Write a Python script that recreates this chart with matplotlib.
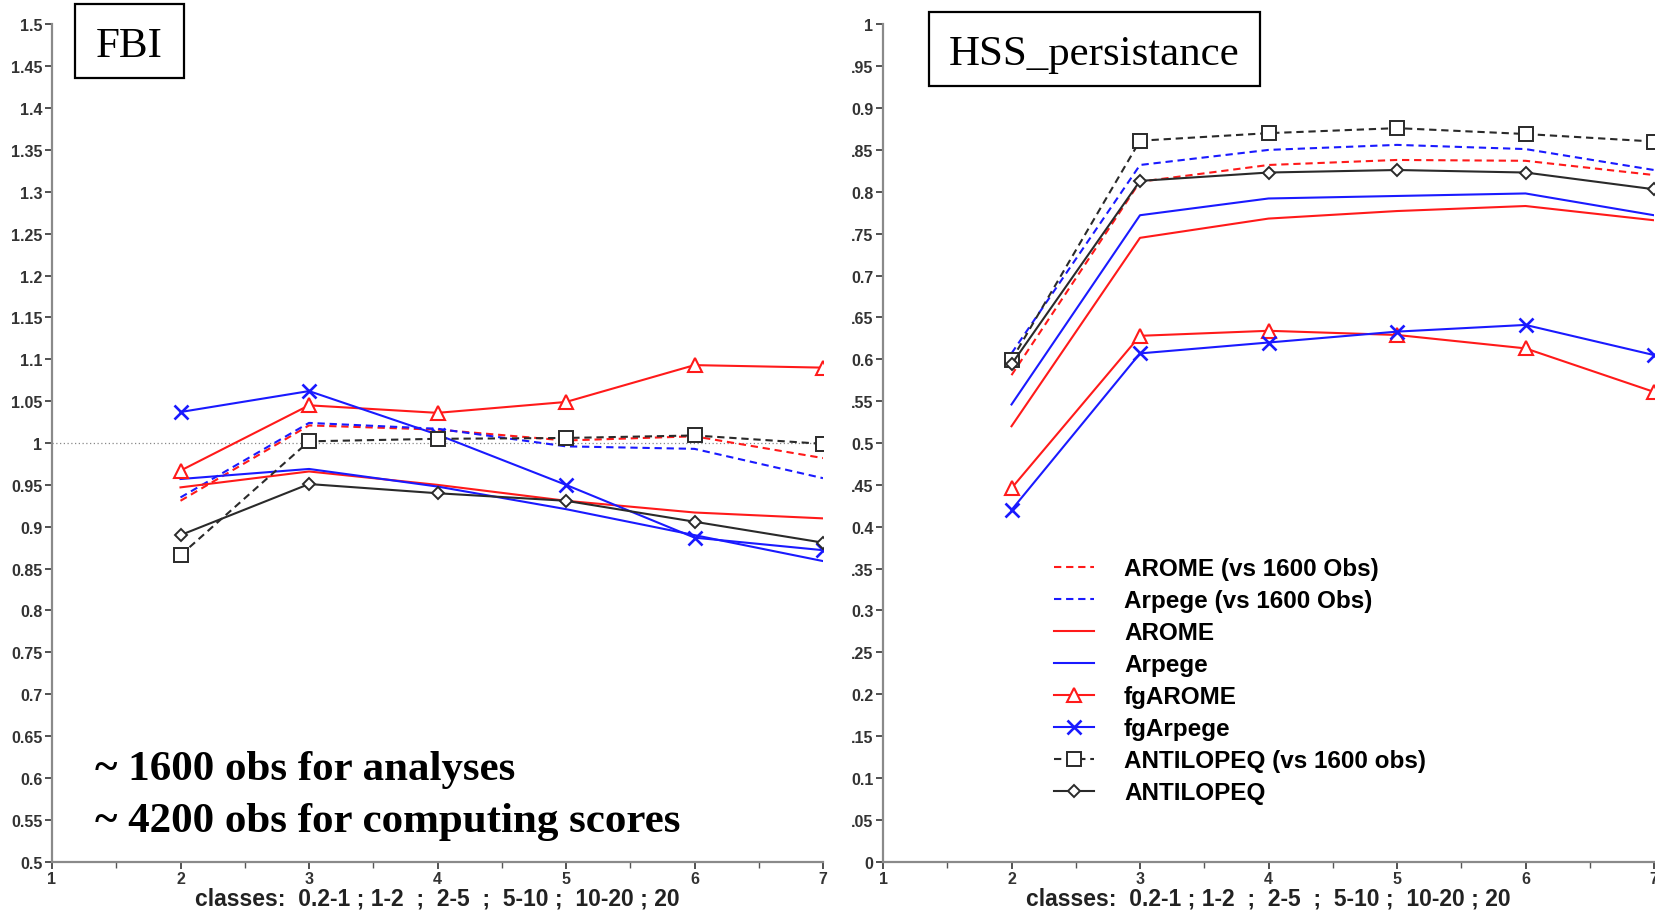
import numpy as np
import matplotlib.pyplot as plt
from matplotlib.patches import Rectangle

# --- Data ---
CLASSES = [2, 3, 4, 5, 6, 7]

LABELS = ['AROME (vs 1600 Obs)', 'Arpege (vs 1600 Obs)', 'AROME', 'Arpege',
          'fgAROME', 'fgArpege', 'ANTILOPEQ (vs 1600 obs)', 'ANTILOPEQ']

FBI_AROME_1600 = [0.931, 1.021, 1.016, 1.003, 1.008, 0.982]
FBI_ARPEGE_1600 = [0.935, 1.024, 1.017, 0.996, 0.993, 0.958]
FBI_AROME = [0.947, 0.966, 0.950, 0.931, 0.917, 0.910]
FBI_ARPEGE = [0.957, 0.969, 0.948, 0.921, 0.890, 0.859]
FBI_FGAROME = [0.967, 1.045, 1.036, 1.049, 1.093, 1.090]
FBI_FGARPEGE = [1.037, 1.062, 1.010, 0.950, 0.887, 0.872]
FBI_ANTI_1600 = [0.866, 1.002, 1.005, 1.006, 1.009, 0.999]
FBI_ANTI = [0.890, 0.951, 0.940, 0.931, 0.906, 0.881]

HSS_AROME_1600 = [0.581, 0.812, 0.832, 0.838, 0.837, 0.820]
HSS_ARPEGE_1600 = [0.607, 0.832, 0.850, 0.856, 0.851, 0.826]
HSS_AROME = [0.520, 0.745, 0.768, 0.777, 0.783, 0.766]
HSS_ARPEGE = [0.546, 0.772, 0.792, 0.795, 0.798, 0.772]
HSS_FGAROME = [0.446, 0.628, 0.634, 0.629, 0.613, 0.561]
HSS_FGARPEGE = [0.420, 0.607, 0.620, 0.633, 0.641, 0.605]
HSS_ANTI_1600 = [0.599, 0.861, 0.870, 0.876, 0.869, 0.860]
HSS_ANTI = [0.594, 0.813, 0.823, 0.826, 0.823, 0.803]

FBI_TICKS = [0.5, 0.55, 0.6, 0.65, 0.7, 0.75, 0.8, 0.85, 0.9, 0.95, 1.0,
             1.05, 1.1, 1.15, 1.2, 1.25, 1.3, 1.35, 1.4, 1.45, 1.5]
HSS_TICKS = [0, 0.05, 0.1, 0.15, 0.2, 0.25, 0.3, 0.35, 0.4, 0.45, 0.5,
             0.55, 0.6, 0.65, 0.7, 0.75, 0.8, 0.85, 0.9, 0.95, 1.0]
# right panel labels are cut off at the left edge in the original
HSS_TICKLABELS = ['0', '.05', '0.1', '.15', '0.2', '.25', '0.3', '.35', '0.4', '.45', '0.5',
                  '.55', '0.6', '.65', '0.7', '.75', '0.8', '.85', '0.9', '.95', '1']

XLABEL = 'classes:  0.2-1 ; 1-2  ;  2-5  ;  5-10 ;  10-20 ; 20'

RED, BLUE, BLACK = '#ff1a1a', '#1a1aff', '#2a2a2a'
DASH = (0, (3.5, 2.3))
STYLES = [
    dict(color=RED, ls=DASH),
    dict(color=BLUE, ls=DASH),
    dict(color=RED, ls='-'),
    dict(color=BLUE, ls='-'),
    dict(color=RED, ls='-', marker='^', mfc='white', ms=9.5, mew=1.5),
    dict(color=BLUE, ls='-', marker='x', ms=9.5, mew=1.9),
    dict(color=BLACK, ls=DASH, marker='s', mfc='white', ms=9.5, mew=1.4),
    dict(color=BLACK, ls='-', marker='D', mfc='white', ms=6.5, mew=1.4),
]

plt.rcParams.update({'font.family': 'Liberation Sans', 'font.weight': 'bold'})
TICK_KW = dict(labelsize=11.5, colors='#333333', length=5, width=1.2, pad=2)
SPINE_COLOR = '#8a8a8a'

W, H = 1655, 912


def style_axis(ax, ylim, ticks, ticklabels, refline):
    ax.set_xlim(1, 7)
    ax.set_ylim(*ylim)
    ax.set_xticks([1, 2, 3, 4, 5, 6, 7])
    ax.set_xticks(np.arange(1.5, 7, 1.0), minor=True)
    ax.set_yticks(ticks)
    ax.set_yticklabels(ticklabels)
    ax.tick_params(axis='both', which='major', **TICK_KW)
    ax.tick_params(axis='x', which='minor', length=4, width=1.0, colors='#555555')
    for s in ['top', 'right']:
        ax.spines[s].set_visible(False)
    for s in ['left', 'bottom']:
        ax.spines[s].set_color(SPINE_COLOR)
        ax.spines[s].set_linewidth(1.6)
    ax.axhline(refline, color='#888888', ls=(0, (1, 2)), lw=0.9, zorder=1)
    ax.set_xlabel(XLABEL, fontsize=16.5, fontweight='bold', color='#222222', labelpad=0)
    for lab in ax.get_xticklabels() + ax.get_yticklabels():
        lab.set_fontweight('bold')


def draw_series(ax, series):
    for vals, label, st in zip(series, LABELS, STYLES):
        ax.plot(CLASSES, vals, label=label, lw=1.5, zorder=3, **st)


def boxed_title(fig, text, x0, y0, x1, y1):
    fig.patches.append(Rectangle((x0 / W, 1 - y1 / H), (x1 - x0) / W, (y1 - y0) / H,
                                 transform=fig.transFigure, fill=False, lw=1.6,
                                 edgecolor='black'))
    fig.text((x0 + x1) / 2 / W, 1 - (y0 + y1) / 2 / H, text, ha='center',
             va='center_baseline', family='Liberation Serif', fontweight='normal',
             fontsize=31)


def main():
    fig = plt.figure(figsize=(W / 100, H / 100), dpi=100)
    ax1 = fig.add_axes([52 / W, 49.3 / H, 771 / W, 837.4 / H])
    ax2 = fig.add_axes([883 / W, 49.3 / H, 771 / W, 837.4 / H])

    draw_series(ax1, [FBI_AROME_1600, FBI_ARPEGE_1600, FBI_AROME, FBI_ARPEGE,
                      FBI_FGAROME, FBI_FGARPEGE, FBI_ANTI_1600, FBI_ANTI])
    style_axis(ax1, (0.5, 1.5), FBI_TICKS, [f"{t:g}" for t in FBI_TICKS], 1.0)

    draw_series(ax2, [HSS_AROME_1600, HSS_ARPEGE_1600, HSS_AROME, HSS_ARPEGE,
                      HSS_FGAROME, HSS_FGARPEGE, HSS_ANTI_1600, HSS_ANTI])
    style_axis(ax2, (0, 1), HSS_TICKS, HSS_TICKLABELS, 0.0)

    ax2.legend(loc='upper left', bbox_to_anchor=(1042 / W, 1 - 546 / H),
               bbox_transform=fig.transFigure, frameon=False,
               handlelength=1.65, handletextpad=1.22, labelspacing=0.37,
               borderpad=0, prop={'weight': 'bold', 'size': 17.5})

    boxed_title(fig, 'FBI', 75, 5, 184, 79)
    boxed_title(fig, 'HSS_persistance', 929, 13, 1260, 87)

    note_kw = dict(family='Liberation Serif', fontweight='bold', fontsize=31,
                   ha='left', va='center_baseline')
    fig.text(95 / W, 1 - 766 / H, '~ 1600 obs for analyses', **note_kw)
    fig.text(95 / W, 1 - 818 / H, '~ 4200 obs for computing scores', **note_kw)

    fig.savefig('out.png', dpi=100)


if __name__ == '__main__':
    main()
